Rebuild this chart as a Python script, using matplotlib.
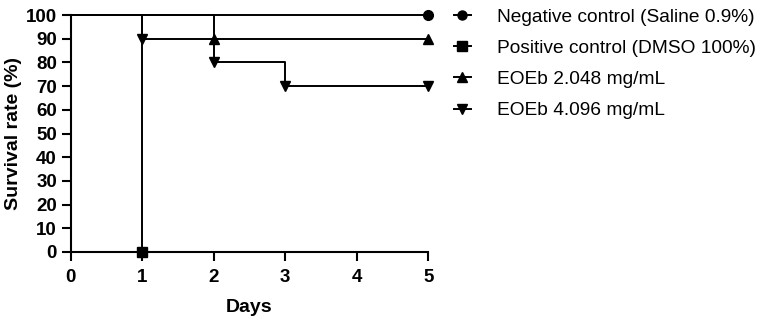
import matplotlib
matplotlib.use("Agg")
import matplotlib.pyplot as plt
from matplotlib.lines import Line2D

# Survival data (Kaplan-Meier steps)
days = [0, 1, 2, 3, 5]
neg_control = [100, 100, 100, 100, 100]
pos_control = [100, 0, 0, 0, 0]
eoeb_2048 = [100, 100, 90, 90, 90]
eoeb_4096 = [100, 90, 80, 70, 70]

# event markers (drop points and end of follow-up)
neg_mark_x, neg_mark_y = [5], [100]
pos_mark_x, pos_mark_y = [1], [0]
e2_mark_x, e2_mark_y = [2, 5], [90, 90]
e4_mark_x, e4_mark_y = [1, 2, 3, 5], [90, 80, 70, 70]

labels = ["Negative control (Saline 0.9%)", "Positive control (DMSO 100%)",
          "EOEb 2.048 mg/mL", "EOEb 4.096 mg/mL"]
markers = ["o", "s", "^", "v"]

plt.rcParams['font.family'] = ['Liberation Sans', 'DejaVu Sans']

fig = plt.figure(figsize=(7.62, 3.21), dpi=100)
ax = fig.add_axes([0.093, 0.215, 0.469, 0.738])

series = [
    (neg_control, neg_mark_x, neg_mark_y),
    (pos_control, pos_mark_x, pos_mark_y),
    (eoeb_2048, e2_mark_x, e2_mark_y),
    (eoeb_4096, e4_mark_x, e4_mark_y),
]
for (vals, mx, my), m in zip(series, markers):
    if vals is pos_control:
        # no follow-up after day 1
        ax.plot(days[:2], vals[:2], drawstyle='steps-post', color='black', lw=1.4, clip_on=False)
    else:
        ax.plot(days, vals, drawstyle='steps-post', color='black', lw=1.4, clip_on=False)
    ax.plot(mx, my, linestyle='none', marker=m, color='black', markersize=7, clip_on=False, zorder=5)

ax.set_xlim(0, 5)
ax.set_ylim(0, 100)
ax.set_xticks(range(0, 6))
ax.set_yticks(range(0, 101, 10))
ax.spines['top'].set_visible(False)
ax.spines['right'].set_visible(False)
for s in ['left', 'bottom']:
    ax.spines[s].set_linewidth(1.5)
ax.tick_params(width=1.5, length=6.5, labelsize=13.5)
ax.tick_params(axis='x', pad=6)
for lbl in ax.get_xticklabels() + ax.get_yticklabels():
    lbl.set_fontweight('bold')
ax.set_xlabel("Days", fontsize=14, fontweight='bold', labelpad=9)
ax.set_ylabel("Survival rate (%)", fontsize=14, fontweight='bold', labelpad=3)

handles = [Line2D([], [], color='black', lw=1.4, marker=m, markersize=6.5) for m in markers]
fig.legend(handles, labels, loc='upper left', bbox_to_anchor=(0.578, 1.016),
           frameon=False, fontsize=13.8, handlelength=0.9, handletextpad=1.35,
           labelspacing=0.72, borderaxespad=0.3)

fig.savefig("out.png", dpi=100)
